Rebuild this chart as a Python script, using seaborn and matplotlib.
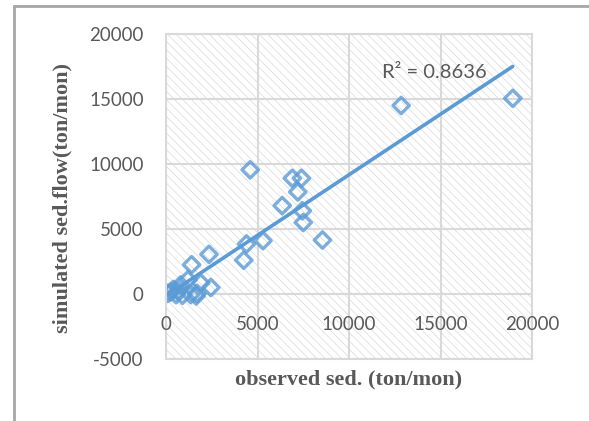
import matplotlib
matplotlib.use("Agg")
import pandas as pd
import seaborn as sns
import matplotlib.pyplot as plt
import matplotlib.transforms as mtrans
from matplotlib.transforms import offset_copy
from matplotlib.lines import Line2D

# observed vs simulated sediment (ton/mon)
observed = [100, 250, 400, 550, 650, 800, 900, 1200, 1350, 1400, 1650, 1700, 1900,
            2350, 2450, 4250, 4400, 4600, 5300, 6350, 6900, 7200, 7400, 7450, 7500,
            8550, 12850, 18950]
simulated = [50, 150, 350, -50, 250, 700, -100, 1100, -50, 2250, -150, 50, 850,
             3050, 500, 2600, 3850, 9550, 4100, 6800, 8900, 7850, 8900, 6400, 5500,
             4150, 14500, 15050]
r2_text = "R² = 0.8636"
xticks = [0, 5000, 10000, 15000, 20000]
yticks = [-5000, 0, 5000, 10000, 15000, 20000]

df = pd.DataFrame({"obs": observed, "sim": simulated})

blue = "#5B9BD5"
grey_txt = "#595959"
grid_c = "#d9d9d9"

sns.set_style("white")
plt.rcParams["hatch.linewidth"] = 0.45
plt.rcParams["hatch.color"] = "#d6d6d6"
plt.rcParams["axes.unicode_minus"] = False

fig = plt.figure(figsize=(5.89, 4.21), dpi=100)
ax = fig.add_axes([166 / 589, 1 - 359 / 421, 366 / 589, 325 / 421])

ax.patch.set_facecolor("white")
ax.patch.set_hatch("\\\\\\\\")
ax.patch.set_edgecolor("#d6d6d6")

sns.regplot(data=df, x="obs", y="sim", ax=ax, ci=None, truncate=True,
            marker="D",
            scatter_kws=dict(s=70, facecolors="none", edgecolors=blue, linewidths=2.4),
            line_kws=dict(color=blue, lw=2.6))

ax.set_xlim(0, 20000)
ax.set_ylim(-5000, 20000)
ax.set_xticks(xticks)
ax.set_yticks(yticks)
ax.grid(True, color=grid_c, lw=1.5)
ax.set_axisbelow(True)
for s in ax.spines.values():
    s.set_color(grid_c)
    s.set_linewidth(1.5)

ax.tick_params(axis="both", length=0, labelsize=13.5, labelcolor=grey_txt)
ax.tick_params(axis="y", pad=16)
for lbl in ax.get_yticklabels():
    lbl.set_fontfamily("Lato")
ax.set_xlabel("")
ax.set_ylabel("")

# x tick labels sit just under the zero line, like the original
trans = mtrans.blended_transform_factory(ax.transData, ax.transData)
ax.set_xticklabels([])
for t in xticks:
    ax.text(t, 0, str(t), transform=offset_copy(trans, fig=fig, x=0, y=-31, units="dots"),
            ha="center", va="center", fontsize=13.5, color=grey_txt, family="Lato")

fig.text(349 / 589, 1 - 379 / 421, "observed sed. (ton/mon)", ha="center", va="center",
         fontsize=16, fontweight="bold", color=grey_txt, family="Liberation Serif")
fig.text(62 / 589, 1 - 198 / 421, "simulated sed.flow(ton/mon)", ha="center", va="center",
         rotation=90, fontsize=16, fontweight="bold", color=grey_txt, family="Liberation Serif")

fig.text(434 / 589, 1 - 72 / 421, r2_text, ha="center", va="center",
         fontsize=14.5, color=grey_txt, family="Lato")

# outer chart frame (only top and left edges fall inside the image)
fig.add_artist(Line2D([13.5 / 589, 13.5 / 589], [0, 1 - 5.5 / 421],
                      transform=fig.transFigure, color="#a6a6a6", lw=2))
fig.add_artist(Line2D([13.5 / 589, 1], [1 - 5.5 / 421, 1 - 5.5 / 421],
                      transform=fig.transFigure, color="#a6a6a6", lw=2))

fig.savefig("out.png", dpi=100)
